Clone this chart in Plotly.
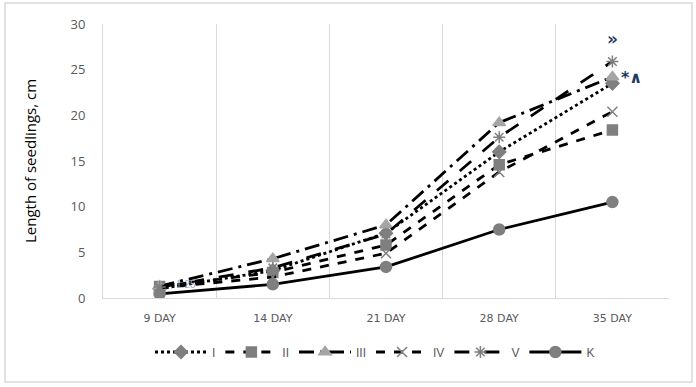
import plotly.graph_objects as go

days = ["9 DAY", "14 DAY", "21 DAY", "28 DAY", "35 DAY"]
s_I = [1.0, 3.0, 7.1, 16.0, 23.5]
s_II = [1.25, 2.8, 5.8, 14.6, 18.4]
s_III = [1.3, 4.3, 8.0, 19.2, 24.2]
s_IV = [1.1, 2.3, 4.9, 13.8, 20.4]
s_V = [1.2, 3.3, 7.0, 17.6, 25.9]
s_K = [0.45, 1.5, 3.4, 7.5, 10.5]

series = [
    ("I", s_I, "dot", "diamond", "#7f7f7f", 10),
    ("II", s_II, "dash", "square", "#7f7f7f", 10),
    ("III", s_III, "longdashdot", "triangle-up", "#a5a5a5", 11),
    ("IV", s_IV, "dash", "x-thin-open", "#7f7f7f", 10),
    ("V", s_V, "longdash", "asterisk-open", "#7f7f7f", 10),
    ("K", s_K, "solid", "circle", "#7f7f7f", 11),
]

fig = go.Figure()
for name, vals, dash, sym, mcol, msize in series:
    fig.add_trace(go.Scatter(
        x=days, y=vals, name=name, mode="lines+markers",
        line=dict(color="black", width=2.8, dash=dash),
        marker=dict(symbol=sym, size=msize, color=mcol,
                    line=dict(color=mcol, width=1.5)),
    ))

W, H = 696, 387
L, R, T, B = 103, 27, 24, 89
pw, ph = W - L - R, H - T - B

def px_x(p):
    return (p - L) / pw

def px_y(p):
    return (H - B - p) / ph

fig.add_shape(type="rect", xref="paper", yref="paper",
              x0=px_x(5), x1=px_x(692), y0=px_y(382), y1=px_y(3),
              line=dict(color="#d9d9d9", width=1.5), layer="below")

fig.add_annotation(x=days[0], y=s_II[0], text="1.25", showarrow=False,
                   xshift=26, yshift=2, font=dict(size=10, color="#9fb3c8",
                                                   family="Liberation Sans"))
fig.add_annotation(x=days[4], y=s_V[4], text="<b>»</b>", showarrow=False,
                   yshift=22, font=dict(size=17, color="#1f3864",
                                        family="DejaVu Sans"))
fig.add_annotation(x=days[4], y=s_III[4], text="<b>*∧</b>", showarrow=False,
                   xshift=19, yshift=-1, font=dict(size=16, color="#1f3864",
                                                   family="DejaVu Sans"))

fig.update_layout(
    width=W, height=H,
    margin=dict(l=L, r=R, t=T, b=B, autoexpand=False),
    paper_bgcolor="white", plot_bgcolor="white",
    font=dict(family="Open Sans", color="#595959"),
    showlegend=True,
    legend=dict(orientation="h", x=px_x(375), xanchor="center",
                y=px_y(352), yanchor="middle",
                font=dict(size=12, color="#595959", family="Liberation Sans"),
                itemwidth=52, tracegroupgap=0, bgcolor="rgba(0,0,0,0)"),
    xaxis=dict(type="category", range=[-0.5, len(days) - 0.5],
               tickson="boundaries", showgrid=True,
               gridcolor="#d9d9d9", gridwidth=1, showline=True,
               linecolor="#d9d9d9", linewidth=1, ticks="", zeroline=False,
               automargin=False,
               tickfont=dict(size=11, color="#595959", family="DejaVu Sans"),
               ticklabelstandoff=10),
    yaxis=dict(range=[0, 30], dtick=5, showgrid=False, showline=True,
               linecolor="#d9d9d9", linewidth=1, ticks="", zeroline=False,
               automargin=False,
               tickfont=dict(size=13, color="#595959", family="Open Sans"),
               ticklabelstandoff=14,
               title=dict(text="Length of seedlings, cm", standoff=30,
                          font=dict(size=15, color="black", family="Open Sans"))),
)

fig.write_html("out.html", config={"displayModeBar": False},
               post_script="document.body.style.margin='0px';")
